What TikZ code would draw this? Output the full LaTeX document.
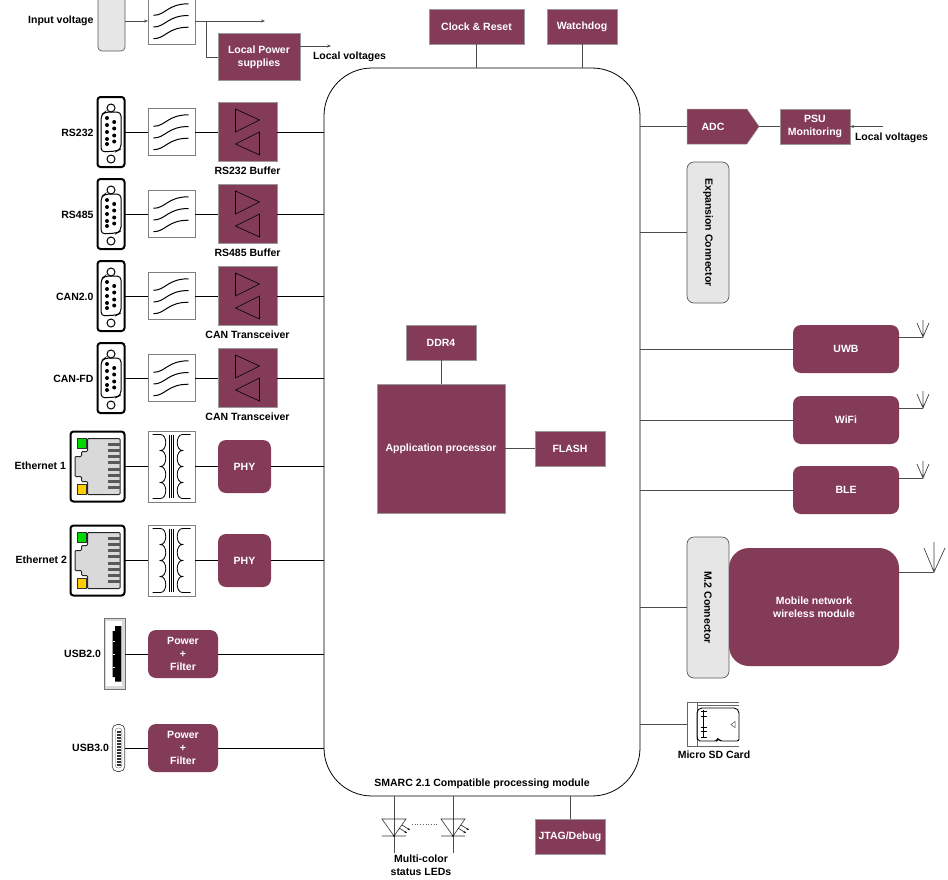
\documentclass[tikz,border=0pt]{standalone}
\usepackage{fontspec}
\setmainfont{Liberation Sans}
\usetikzlibrary{arrows.meta,shapes.symbols}
\definecolor{wine}{HTML}{843B57}
\definecolor{conn}{HTML}{E6E6E6}
\tikzset{
  x=1pt,y=-1pt,
  every node/.style={inner sep=0pt,outer sep=0pt,font=\bfseries\fontsize{10.5}{12.8}\selectfont,align=center},
  wirel/.style={draw=black,line width=1pt},
  wiret/.style={draw=black!70,line width=.8pt},
  downtext/.style={execute at begin node={\vspace*{2pt}}},
  winebox/.style={draw=black!40,line width=.5pt,fill=wine,text=white,minimum width=#1,downtext},
  winebox/.default=70pt,
  winer/.style={draw=none,fill=wine,text=white,rounded corners=8pt,minimum width=#1,downtext},
  filterbox/.style={draw=black!50,line width=.7pt,fill=white,minimum width=47pt,minimum height=47pt},
  xfmrbox/.style={draw=black!50,line width=.7pt,fill=white,minimum width=47pt,minimum height=71pt},
  graybox/.style={draw=black!65,line width=.7pt,fill=conn,rounded corners=7pt,minimum width=42pt,minimum height=141pt},
  labelt/.style={text=black,yshift=-1pt},
  sym/.style={draw=black,line width=.8pt},
  arroww/.style={-{Stealth[length=4pt,width=3pt]}},
  pics/filtersym/.style={code={
    \foreach \d in {-11.7,0,11.7}{
      \draw[black,line width=1pt] (-18,6+\d) .. controls (-6,6+\d) and (-4,-5.5+\d) .. (17,-5.5+\d);
    }
  }},
  pics/dsubsym/.style={code={
    \draw[black,line width=2pt,rounded corners=3pt] (-13.5,-35) rectangle (13.5,35);
    \draw[black,line width=1pt] (0,-24) circle (4) (0,27) circle (4);
    \draw[black,line width=1pt,rounded corners=4pt] (-10,-17) -- (-6,-20) -- (10,-20) -- (10,17) -- (6,19) -- (-10,20) -- cycle;
    \foreach \v in {-14,-7,0,7,12}{\fill[black] (-4,\v) circle (2);}
    \foreach \v in {-10,-3.5,3.5,9.5}{\fill[black] (3.2,\v) circle (2);}
  }},
  pics/buffsym/.style={code={
    \draw[black,line width=.6pt] (-12,-23) -- (-12,0) -- (12,-12) -- cycle;
    \draw[black,line width=.6pt] (12,0) -- (12,23) -- (-12,12) -- cycle;
  }},
  pics/rjsym/.style={code={
    \draw[black,line width=2pt,rounded corners=3pt] (-27,-35) rectangle (27,35);
    \draw[black!85,line width=1pt,fill=black!15,rounded corners=1pt] (-10,-28) -- (22.5,-28) -- (22.5,28) -- (-10,28) -- (-10,15) -- (-16,15) -- (-16,10) -- (-22.5,10) -- (-22.5,-10) -- (-16,-10) -- (-16,-15) -- (-10,-15) -- cycle;
    \foreach \v in {-22,-16,-10,-4,3,9,15,21}{\fill[black!65] (10,\v-1.2) rectangle (22.5,\v+1.2);}
    \draw[black!80,line width=.8pt,fill=green!85!black] (-20.5,-28) rectangle (-11.5,-18);
    \draw[black!80,line width=.8pt,fill=orange!40!yellow] (-20.5,18) rectangle (-11.5,28);
  }},
  pics/xfmrsym/.style={code={
    \draw[sym] (-2,-32) -- (-2,31) (0,-32) -- (0,31) (2,-32) -- (2,31);
    \draw[sym] (-19,-32) -- (-11,-32)
      .. controls (-4,-32) and (-4,-16) .. (-11,-16)
      .. controls (-4,-16) and (-4,0) .. (-11,0)
      .. controls (-4,0) and (-4,16) .. (-11,16)
      .. controls (-4,16) and (-4,32) .. (-11,32) -- (-19,32);
    \draw[sym] (19,-32) -- (11,-32)
      .. controls (4,-32) and (4,-16) .. (11,-16)
      .. controls (4,-16) and (4,0) .. (11,0)
      .. controls (4,0) and (4,16) .. (11,16)
      .. controls (4,16) and (4,32) .. (11,32) -- (19,32);
  }},
  pics/antennasym/.style={code={
    \draw[black!75,line width=.7pt] (0,0) -- (0,-17) (-#1,-14) -- (0,0) -- (#1,-14);
  }},
  pics/ledsym/.style={code={
    \draw[black!80,line width=.6pt] (-12,-17) -- (12,-17) -- (0,0) -- cycle (-12,0) -- (12,0);
    \fill[black] (0,0) circle (.8);
    \draw[black,line width=.5pt,-{Stealth[length=2.5pt,width=2pt]}] (5,-8) -- (13,-3);
    \draw[black,line width=.5pt,-{Stealth[length=2.5pt,width=2pt]}] (8,-11) -- (16,-6);
  }}
}
\begin{document}
\begin{tikzpicture}
\useasboundingbox (0,0) rectangle (948,879);
\clip (0,0) rectangle (948,879);
% main module
\node[draw=black,line width=.8pt,fill=white,rounded corners=48pt,minimum width=316pt,minimum height=728pt] (main) at (482,432) {};
\node[labelt] (maint) at (482,783) {SMARC 2.1 Compatible processing module};
% input row
\node[graybox,minimum width=27pt,minimum height=91pt,rounded corners=4pt] (inp) at (111.5,5.5) {};
\coordinate (inpe) at (125,21);
\node[filterbox] (f0) at (171.5,21) {};
\pic at (f0.center) {filtersym};
\node[labelt,anchor=east] (l0) at (93.5,20) {Input voltage};
\coordinate (arr0) at (265,21);
\node[winebox=82pt,minimum height=47pt] (lps) at (259,57) {Local Power\\supplies};
\coordinate (lv1) at (331,46);
\node[labelt,anchor=west] (lvt1) at (313,56) {Local voltages};
\coordinate (br) at (206,21);
\draw[wiret,arroww] (inpe) -- (f0.west);
\draw[wiret,arroww] (f0.east) -- (arr0);
\draw[wiret] (br) |- (lps.west);
\draw[wiret,arroww] (lps.east |- lv1) -- (lv1);
% serial rows
\foreach \nm/\yy/\txt/\buf in {a/132/RS232/RS232 Buffer,b/214/RS485/RS485 Buffer,c/296/CAN2.0/CAN Transceiver,d/378/CAN-FD/CAN Transceiver}{
  \node[minimum width=28pt,minimum height=70pt,fill=white] (ds\nm) at (111,\yy) {};
  \pic at (ds\nm.center) {dsubsym};
  \node[labelt,anchor=east] (dl\nm) at (93.5,\yy) {\txt};
  \node[filterbox] (fl\nm) at (171.5,\yy) {};
  \pic at (fl\nm.center) {filtersym};
  \node[winebox=59pt,minimum height=59pt] (bf\nm) at (247.5,\yy) {};
  \pic at (bf\nm.center) {buffsym};
  \node[labelt] (bl\nm) at (247.5,\yy+38) {\buf};
  \draw[wirel] (ds\nm.east) -- (fl\nm.west);
  \draw[wirel] (fl\nm.east) -- (bf\nm.west);
  \draw[wirel] (bf\nm.east) -- (bf\nm.east -| main.west);
}
% ethernet rows
\foreach \nm/\yy/\txt/\lx in {e/466.5/Ethernet 1/66,f/560.5/Ethernet 2/67}{
  \node[minimum width=55pt,minimum height=70pt,fill=white] (rj\nm) at (97.5,\yy) {};
  \pic at (rj\nm.center) {rjsym};
  \node[labelt,anchor=east] (el\nm) at (\lx,\yy-1.5) {\txt};
  \node[xfmrbox] (xf\nm) at (171.5,\yy) {};
  \pic at (xf\nm.center) {xfmrsym};
  \node[winer=53pt,minimum height=53pt] (ph\nm) at (244.5,\yy) {PHY};
  \draw[wirel] (rj\nm.east) -- (xf\nm.west);
  \draw[wirel] (xf\nm.east) -- (ph\nm.west);
  \draw[wirel] (ph\nm.east) -- (ph\nm.east -| main.west);
}
% usb 2
\node[draw=black!55,line width=.6pt,fill=black!15,minimum width=21pt,minimum height=71pt] (u2) at (114.5,654) {};
\fill[white] (106,621) rectangle (122,686);
\fill[black] (115,626) -- (121.3,626) -- (121.3,681.5) -- (115,681.5) -- (115,677) -- (112.7,677) -- (112.7,631) -- (115,631) -- cycle;
\foreach \v in {641,654,667}{\draw[white,line width=.8pt] (112.5,\v) -- (114.5,\v);}
\node[labelt,anchor=east] (u2l) at (101,653) {USB2.0};
\node[winer=70pt,minimum height=48pt] (pw1) at (183,654) {Power\\+\\Filter};
\draw[wirel] (u2.east) -- (pw1.west);
\draw[wirel] (pw1.east) -- (pw1.east -| main.west);
% usb 3
\node[draw=black!70,line width=.7pt,fill=white,rounded corners=5pt,minimum width=12.5pt,minimum height=47pt] (u3) at (118.5,748) {};
\draw[black!60,line width=.4pt,rounded corners=3pt] (115.2,728) rectangle (121.8,768);
\foreach \v in {0,...,11}{\fill[black!80] (116.6,731+\v*3) rectangle (120.6,732.6+\v*3);}
\node[labelt,anchor=east] (u3l) at (109,747) {USB3.0};
\node[winer=70pt,minimum height=48pt] (pw2) at (183,748) {Power\\+\\Filter};
\draw[wirel] (u3.east) -- (pw2.west);
\draw[wirel] (pw2.east) -- (pw2.east -| main.west);
% top boxes
\node[winebox=95pt,minimum height=35pt] (clk) at (476.5,26.5) {Clock \& Reset};
\node[winebox=70pt,minimum height=35pt] (wd) at (582,26.5) {Watchdog};
\draw[wiret] (clk.south) -- (clk.south |- main.north);
\draw[wiret] (wd.south) -- (wd.south |- main.north);
% inner
\node[winebox=128pt,minimum height=129pt] (app) at (441,448.5) {Application processor};
\node[winebox=70pt,minimum height=35pt] (ddr) at (441,342.5) {DDR4};
\node[winebox=70pt,minimum height=35pt] (fl) at (570,448.5) {FLASH};
\draw[wiret] (ddr.south) -- (app.north);
\draw[wiret] (app.east) -- (fl.west);
% ADC row
\node[fill=wine,draw=black!40,line width=.5pt,text=white,shape=signal,signal to=east,signal pointer angle=110,minimum width=72pt,minimum height=35pt,yshift=-.5pt] (adc) at (717,126) {\hspace*{-8pt}ADC};
\node[winebox=70pt,minimum height=35pt] (psu) at (815,126.5) {PSU\\Monitoring};
\coordinate (lv2) at (883,126.5);
\node[labelt,anchor=west] (lvt2) at (855,137) {Local voltages};
\draw[wiret] (adc.west -| main.east) -- (adc.west);
\draw[wiret] (adc.east) -- (psu.west);
\draw[wiret,arroww] (lv2) -- (psu.east);
% expansion
\node[graybox] (exp) at (708,232.5) {\rotatebox{-90}{Expansion Connector}};
\draw[wiret] (exp.west -| main.east) -- (exp.west);
% radios
\foreach \nm/\yy/\txt in {u/349/UWB,w/420/WiFi,b/490/BLE}{
  \node[winer=106pt,minimum height=48pt] (rd\nm) at (846,\yy) {\txt};
  \draw[wiret] (rd\nm.west -| main.east) -- (rd\nm.west);
  \coordinate (ant\nm) at (923,\yy-12);
  \pic at (ant\nm) {antennasym=6};
  \draw[wiret] (rd\nm.east |- ant\nm) -- (ant\nm);
}
% M.2
\node[graybox] (m2) at (708,607.5) {\rotatebox{-90}{M.2 Connector}};
\node[winer=170pt,minimum height=118pt,rounded corners=20pt] (mob) at (814,607) {Mobile network\\wireless module};
\draw[wiret] (m2.west -| main.east) -- (m2.west);
\coordinate (antm) at (934,572);
\draw[black!75,line width=.7pt] (antm) -- (934,542) (924,548) -- (antm) -- (945,548);
\draw[wiret] (mob.east |- antm) -- (antm);
% micro SD
\node[minimum width=1pt,minimum height=44pt] (sd) at (687,724.5) {};
\draw[black!60,line width=.7pt] (738.5,702) -- (687,702) -- (687,746) -- (738.5,746);
\draw[black!60,line width=.5pt] (697,705) -- (738.5,705) (697,702) -- (697,746);
\draw[black,line width=.9pt,rounded corners=2pt] (700,708) -- (736,708) -- (739,711) -- (739,741) -- (720,741) -- (718,738.5) -- (717,741) -- (698,741) -- (697,738) -- (697,711) -- cycle;
\foreach \v in {711,716,727,731,737}{\draw[black,line width=.6pt] (700.5,\v) -- (707,\v);}
\draw[black,line width=.6pt] (703.5,710) -- (703.5,738);
\draw[black!70,line width=.5pt] (731,724.5) -- (735,721.5) -- (735,727.5) -- cycle;
\node[labelt] (sdl) at (714,754) {Micro SD Card};
\draw[wiret] (sd.west -| main.east) -- (sd.west);
% LEDs
\coordinate (l1) at (394,836);
\coordinate (l2) at (453,836);
\coordinate (l1e) at (394,853);
\coordinate (l2e) at (453,853);
\draw[wiret] (l1 |- main.south) -- (l1e);
\draw[wiret] (l2 |- main.south) -- (l2e);
\pic at (l1) {ledsym};
\pic at (l2) {ledsym};
\draw[black!60,line width=.7pt,dotted] (412,824) -- (438,824);
\node[labelt] (ledt) at (421,864.5) {Multi-color\\status LEDs};
\node[winebox=70pt,minimum height=35pt] (jt) at (570,836.5) {JTAG/Debug};
\draw[wiret] (jt.north) -- (jt.north |- main.south);
\end{tikzpicture}
\end{document}
